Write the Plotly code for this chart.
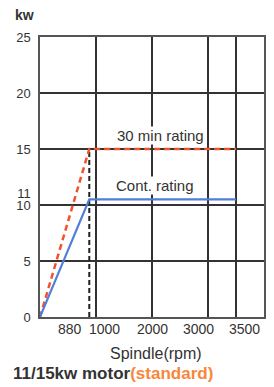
import plotly.graph_objects as go

# ---- data ----
rpm_points = [0, 880, 3500]
rating_30min = [0, 15, 15]
rating_cont = [0, 10.5, 10.5]
base_speed = [880, 880]
base_speed_kw = [0, 15]

x_grid = [1000, 2000, 3000, 3500]
y_grid = [5, 10, 15, 20]
x_tick_labels = [880, 1000, 2000, 3000, 3500]
x_label_shift = [-19, 8, 0, -10, 8]
y_tick_labels = [0, 5, 10, 11, 15, 20, 25]

FONT = "Liberation Sans, Arial, sans-serif"
TXT = "#333333"
GRID = "#333333"

fig = go.Figure()
fig.add_trace(go.Scatter(x=base_speed, y=base_speed_kw, mode="lines",
                         line=dict(color="#222222", width=2, dash="5px,3px"),
                         hoverinfo="skip", showlegend=False))
fig.add_trace(go.Scatter(x=rpm_points, y=rating_30min, mode="lines",
                         line=dict(color="#f0532c", width=2.5, dash="6px,4px"),
                         showlegend=False))
fig.add_trace(go.Scatter(x=rpm_points, y=rating_cont, mode="lines",
                         line=dict(color="#4f7fd8", width=2.2),
                         showlegend=False))

fig.update_layout(
    width=274, height=387,
    margin=dict(l=40, r=10, t=37, b=70),
    paper_bgcolor="white", plot_bgcolor="white",
    font=dict(family=FONT, color=TXT, size=14),
    showlegend=False,
    xaxis=dict(range=[0, 4000], tickmode="array", tickvals=x_grid,
               showticklabels=False, ticks="", showgrid=False, automargin=False,
               minor=dict(tickmode="array", tickvals=x_grid, showgrid=True,
                          gridcolor=GRID, gridwidth=1.5, ticks=""),
               zeroline=False,
               showline=True, mirror=True, linecolor="#555555", linewidth=1.5),
    yaxis=dict(range=[0, 25], tickmode="array", tickvals=y_tick_labels,
               ticktext=[str(v) for v in y_tick_labels], ticks="",
               showgrid=False, zeroline=False, automargin=False,
               minor=dict(tickmode="array", tickvals=y_grid, showgrid=True,
                          gridcolor=GRID, gridwidth=1.5, ticks=""),
               showline=True, mirror=True, linecolor="#555555", linewidth=1.5,
               tickfont=dict(size=13, color=TXT), ticklabelstandoff=5),
)

annotations = []
for v, s in zip(x_tick_labels, x_label_shift):
    annotations.append(dict(x=v, y=0, xref="x", yref="paper", text=str(v),
                            showarrow=False, xanchor="center", yanchor="top",
                            xshift=s, yshift=-2, font=dict(size=14, color=TXT)))
annotations += [
    dict(x=2143, y=16.2, xref="x", yref="y", text="30 min rating", showarrow=False,
         xanchor="center", yanchor="middle",
         bgcolor="white", borderpad=0, font=dict(size=15, color=TXT)),
    dict(x=2054, y=11.7, xref="x", yref="y", text="Cont. rating", showarrow=False,
         xanchor="center", yanchor="middle",
         bgcolor="white", borderpad=0, font=dict(size=15, color=TXT)),
    dict(x=-0.071, y=1.079, xref="paper", yref="paper", text="<b>kw</b>", showarrow=False,
         xanchor="center", yanchor="middle", font=dict(size=14, color=TXT)),
    dict(x=0.518, y=-0.129, xref="paper", yref="paper", text="Spindle(rpm)", showarrow=False,
         xanchor="center", yanchor="middle", font=dict(size=16, color=TXT)),
    dict(x=0.324, y=-0.2, xref="paper", yref="paper",
         text="<b>11/15kw motor<span style='color:#f7873a'>(standard)</span></b>",
         showarrow=False, xanchor="center", yanchor="middle", font=dict(size=17, color=TXT)),
]
fig.update_layout(annotations=annotations)

fig.write_html("out.html", config={"displayModeBar": False},
               post_script="document.body.style.margin='0';")
